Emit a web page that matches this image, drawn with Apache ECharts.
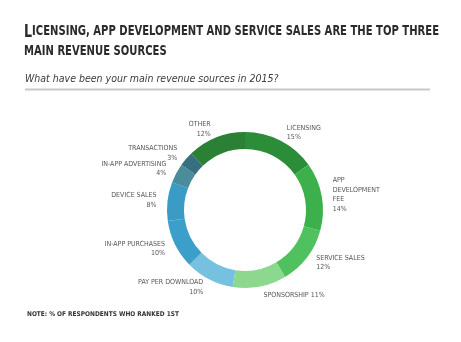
<!DOCTYPE html>
<html><head><meta charset="utf-8">
<script src="https://cdn.jsdelivr.net/npm/echarts@6/dist/echarts.min.js"></script>
<style>html,body{margin:0;padding:0;background:#fff}#c{width:461px;height:342px}</style>
</head><body><div id="c"></div>
<script>
const categories = ['LICENSING', 'APP\nDEVELOPMENT\nFEE', 'SERVICE SALES', 'SPONSORSHIP', 'PAY PER DOWNLOAD', 'IN-APP PURCHASES', 'DEVICE SALES', 'IN-APP ADVERTISING', 'TRANSACTIONS', 'OTHER'];
const values = [15, 14, 12, 11, 10, 10, 8, 4, 3, 12];
const colors = ['#2c8d39', '#3bb04b', '#4fc15e', '#8dd88f', '#76c1e0', '#3c9fc9', '#3a9bc4', '#4b8c9b', '#366f7f', '#2a8135'];
const titleFirst = 'L';
const titleLine1 = 'ICENSING, APP DEVELOPMENT AND SERVICE SALES ARE THE TOP THREE';
const titleLine2 = 'MAIN REVENUE SOURCES';
const subtitle = 'What have been your main revenue sources in 2015?';
const note = 'NOTE: % OF RESPONDENTS WHO RANKED 1ST';

const FONT = '"Liberation Sans Narrow", "DejaVu Sans Condensed", Lato, sans-serif';
const BIG = 'bold 17px ' + FONT, SMALL = 'bold 13.5px ' + FONT;
const mctx = document.createElement('canvas').getContext('2d');
mctx.font = BIG; const wBig = mctx.measureText(titleFirst).width;
mctx.font = SMALL; const wRest = mctx.measureText(titleLine1).width;
const titleScale = 415 / (wBig + wRest);

const chart = echarts.init(document.getElementById('c'), null, {renderer: 'canvas'});
chart.setOption({
  animation: false,
  backgroundColor: '#fff',
  graphic: [
    {type: 'group', x: 24, y: 0, scaleX: titleScale, children: [
      {type: 'text', x: 0, y: 24.5, style: {text: titleFirst, font: BIG, fill: '#2b2b2b', verticalAlign: 'alphabetic'}},
      {type: 'text', x: wBig, y: 24.5, style: {text: titleLine1, font: SMALL, fill: '#2b2b2b', verticalAlign: 'alphabetic'}},
      {type: 'text', x: 0, y: 44.5, style: {text: titleLine2, font: SMALL, fill: '#2b2b2b', verticalAlign: 'alphabetic'}}
    ]},
    {type: 'text', left: 25, top: 74, style: {text: subtitle, font: 'italic 10.5px ' + FONT, fill: '#3a3a3a'}},
    {type: 'line', shape: {x1: 25, y1: 89.5, x2: 430, y2: 89.5}, style: {stroke: '#c8c8c8', lineWidth: 2}},
    {type: 'text', left: 27, top: 311, style: {text: note, font: 'bold 6.5px ' + FONT, fill: '#333'}}
  ],
  series: [{
    type: 'pie',
    radius: [61, 78],
    center: [245, 210],
    startAngle: 90,
    clockwise: true,
    avoidLabelOverlap: false,
    labelLayout: {hideOverlap: false},
    minShowLabelAngle: 0,
    silent: true,
    data: categories.map((c, i) => ({name: c, value: values[i], itemStyle: {color: colors[i]}})),
    label: {
      show: true,
      position: 'outside',
      fontSize: 7,
      fontFamily: FONT,
      color: '#555',
      lineHeight: 9.5,
      distanceToLabelLine: 2,
      formatter: p => p.dataIndex === 3 ? p.name + ' ' + p.value + '%' : p.name + '\n' + p.value + '%'
    },
    labelLine: {show: false, length: 9, length2: 0}
  }]
});
</script></body></html>
